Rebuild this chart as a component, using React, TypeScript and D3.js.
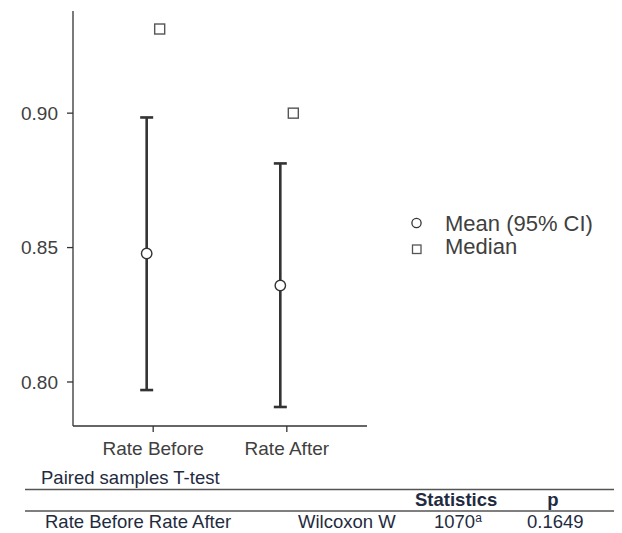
import React from "react";
import * as d3 from "d3";

const categories = ["Rate Before", "Rate After"];
const means = [0.8478, 0.8359];
const ciLower = [0.797, 0.7907];
const ciUpper = [0.8984, 0.8813];
const medians = [0.9313, 0.9];
const yTicks = [0.8, 0.85, 0.9];
const yDomain = [0.784, 0.938];

const legendLabels = ["Mean (95% CI)", "Median"];

const tableTitle = "Paired samples T-test";
const tableHeaders = ["Statistics", "p"];
const tableRow = ["Rate Before", "Rate After", "Wilcoxon W", "1070", "a", "0.1649"];

const FONT = "'Liberation Sans', Arial, Helvetica, sans-serif";
const AX = "#333333";
const TXT = "#404040";
const NAVY = "#1f2b40";

export default function App() {
  const left = 73;
  const right = 367;
  const top = 11;
  const bottom = 425;

  const y = d3.scaleLinear().domain(yDomain).range([bottom, top]);
  const x = d3.scalePoint<string>().domain(categories).range([left, right]).padding(0.6);
  const dodge = 6.5;
  const cap = 6.5;
  const fmt = d3.format(".2f");

  return (
    <svg
      width={622}
      height={533}
      style={{ position: "absolute", left: 0, top: 0, background: "#fff" }}
      fontFamily={FONT}
    >
      <rect x={0} y={0} width={622} height={533} fill="#fff" />
      {/* y axis */}
      <line x1={left} x2={left} y1={top} y2={bottom + 1} stroke={AX} strokeWidth={1.3} />
      {yTicks.map((t) => (
        <g key={t}>
          <line x1={left - 6} x2={left} y1={y(t)} y2={y(t)} stroke={AX} strokeWidth={1.3} />
          <text x={left - 15} y={y(t)} dy="0.35em" textAnchor="end" fontSize={19} fill={TXT}>
            {fmt(t)}
          </text>
        </g>
      ))}
      {/* x axis */}
      <line x1={left} x2={right} y1={bottom + 1} y2={bottom + 1} stroke={AX} strokeWidth={1.3} />
      {categories.map((c) => (
        <g key={c}>
          <line x1={x(c)!} x2={x(c)!} y1={bottom + 1} y2={bottom + 7} stroke={AX} strokeWidth={1.3} />
          <text x={x(c)!} y={455} textAnchor="middle" fontSize={19} fill={TXT}>
            {c}
          </text>
        </g>
      ))}
      {/* error bars + means */}
      {categories.map((c, i) => {
        const cx = x(c)! - dodge;
        return (
          <g key={"m" + c}>
            <line x1={cx} x2={cx} y1={y(ciUpper[i])} y2={y(ciLower[i])} stroke={AX} strokeWidth={2.6} />
            <line x1={cx - cap} x2={cx + cap} y1={y(ciUpper[i])} y2={y(ciUpper[i])} stroke={AX} strokeWidth={2.6} />
            <line x1={cx - cap} x2={cx + cap} y1={y(ciLower[i])} y2={y(ciLower[i])} stroke={AX} strokeWidth={2.6} />
            <circle cx={cx} cy={y(means[i])} r={5.2} fill="#fff" stroke={AX} strokeWidth={1.4} />
          </g>
        );
      })}
      {/* medians */}
      {categories.map((c, i) => {
        const cx = x(c)! + dodge;
        const s = 10;
        return (
          <rect
            key={"med" + c}
            x={cx - s / 2}
            y={y(medians[i]) - s / 2}
            width={s}
            height={s}
            fill="#fff"
            stroke="#555"
            strokeWidth={1.4}
          />
        );
      })}
      {/* legend */}
      <circle cx={416.5} cy={223} r={4.6} fill="#fff" stroke={AX} strokeWidth={1.3} />
      <text x={445} y={231} fontSize={22} fill={TXT}>
        {legendLabels[0]}
      </text>
      <rect x={412.5} y={245} width={8.5} height={8.5} fill="#fff" stroke="#555" strokeWidth={1.3} />
      <text x={445} y={254} fontSize={22} fill={TXT}>
        {legendLabels[1]}
      </text>
      {/* table */}
      <text x={41} y={484} fontSize={18.5} fill={NAVY}>
        {tableTitle}
      </text>
      <line x1={25} x2={614} y1={489.5} y2={489.5} stroke="#555" strokeWidth={1.5} />
      <text x={415} y={506} fontSize={18.5} fontWeight="bold" fill={NAVY}>
        {tableHeaders[0]}
      </text>
      <text x={553} y={506} fontSize={18.5} fontWeight="bold" fill={NAVY} textAnchor="middle">
        {tableHeaders[1]}
      </text>
      <line x1={25} x2={614} y1={511} y2={511} stroke="#555" strokeWidth={1.5} />
      <text x={45} y={528} fontSize={18.5} fill={NAVY}>
        {tableRow[0] + " " + tableRow[1]}
      </text>
      <text x={298} y={528} fontSize={18.5} fill={NAVY}>
        {tableRow[2]}
      </text>
      <text x={434} y={528} fontSize={18.5} fill={NAVY}>
        {tableRow[3]}
        <tspan fontSize={12} dy={-6}>
          {tableRow[4]}
        </tspan>
      </text>
      <text x={527} y={528} fontSize={18.5} fill={NAVY}>
        {tableRow[5]}
      </text>
    </svg>
  );
}
